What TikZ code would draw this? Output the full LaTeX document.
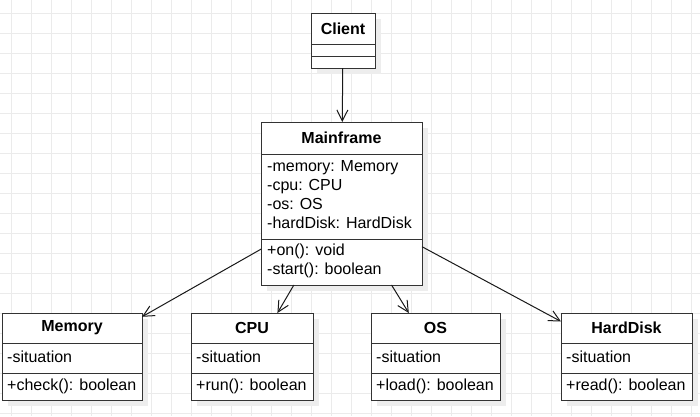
\documentclass[tikz,border=0pt]{standalone}
\usepackage{fontspec}
\setmainfont{Liberation Sans}
\usetikzlibrary{calc, arrows.meta, shadows}

\tikzset{
    umlclass/.style={draw=black!80, fill=white, line width=1pt, anchor=north west,
        inner sep=0pt, outer sep=0pt,
        drop shadow={shadow xshift=6pt, shadow yshift=-6pt, fill=black!7, opacity=1}},
    classname/.style={font=\fontsize{16}{19}\selectfont\bfseries, inner sep=0pt},
    members/.style={font=\fontsize{16}{19}\selectfont, align=left, anchor=west, inner sep=0pt},
    divider/.style={black!80, line width=1pt},
    gridline/.style={black!8, line width=1pt},
    assoc/.style={black!90, line width=1pt, -{Straight Barb[length=11pt, width=11pt]}}
}

\begin{document}
\begin{tikzpicture}[x=1pt, y=-1pt]
    \useasboundingbox (0, 0) rectangle (700, 416);

    % background grid
    \foreach \gx in {11, 31, ..., 691} \draw[gridline] (\gx, 0) -- (\gx, 416);
    \foreach \gy in {13, 33, ..., 413} \draw[gridline] (0, \gy) -- (700, \gy);

    % classes
    \node[umlclass, minimum width=64pt, minimum height=55pt] (client) at (311, 13) {};
    \node[umlclass, minimum width=161pt, minimum height=163pt] (mainframe) at (261, 122) {};
    \node[umlclass, minimum width=140pt, minimum height=87pt] (memory) at (2, 313) {};
    \node[umlclass, minimum width=122pt, minimum height=87pt] (cpu) at (191, 313) {};
    \node[umlclass, minimum width=129pt, minimum height=87pt] (os) at (371, 313) {};
    \node[umlclass, minimum width=131pt, minimum height=87pt] (harddisk) at (561, 313) {};

    % compartments
    \draw[divider] ($(client.north west) + (0, 31)$) -- ($(client.north east) + (0, 31)$);
    \draw[divider] ($(client.north west) + (0, 43)$) -- ($(client.north east) + (0, 43)$);
    \draw[divider] ($(mainframe.north west) + (0, 32)$) -- ($(mainframe.north east) + (0, 32)$);
    \draw[divider] ($(mainframe.north west) + (0, 117)$) -- ($(mainframe.north east) + (0, 117)$);
    \foreach \part in {memory, cpu, os, harddisk} {
        \draw[divider] ($(\part.north west) + (0, 30)$) -- ($(\part.north east) + (0, 30)$);
        \draw[divider] ($(\part.north west) + (0, 60)$) -- ($(\part.north east) + (0, 60)$);
    }

    % names
    \node[classname] (client-name) at ($(client.north) + (0, 15.5)$) {Client};
    \node[classname] (mainframe-name) at ($(mainframe.north) + (0, 16)$) {Mainframe};
    \node[classname] (memory-name) at ($(memory.north) + (0, 15)$) {Memory};
    \node[classname] (cpu-name) at ($(cpu.north) + (0, 15)$) {CPU};
    \node[classname] (os-name) at ($(os.north) + (0, 15)$) {OS};
    \node[classname] (harddisk-name) at ($(harddisk.north) + (0, 15)$) {HardDisk};

    % attributes and operations
    \node[members] (mainframe-attrs) at ($(mainframe.north west) + (6, 73)$)
        {-memory: Memory\\-cpu: CPU\\-os: OS\\-hardDisk: HardDisk};
    \node[members] (mainframe-ops) at ($(mainframe.north west) + (6, 139)$)
        {+on(): void\\-start(): boolean};
    \node[members] (memory-attrs) at ($(memory.north west) + (5, 44)$) {-situation};
    \node[members] (memory-ops) at ($(memory.north west) + (5, 73)$) {+check(): boolean};
    \node[members] (cpu-attrs) at ($(cpu.north west) + (5, 44)$) {-situation};
    \node[members] (cpu-ops) at ($(cpu.north west) + (5, 73)$) {+run(): boolean};
    \node[members] (os-attrs) at ($(os.north west) + (5, 44)$) {-situation};
    \node[members] (os-ops) at ($(os.north west) + (5, 73)$) {+load(): boolean};
    \node[members] (harddisk-attrs) at ($(harddisk.north west) + (5, 44)$) {-situation};
    \node[members] (harddisk-ops) at ($(harddisk.north west) + (5, 73)$) {+read(): boolean};

    % associations
    \draw[assoc] (client) -- (mainframe);
    \draw[assoc] (mainframe) -- (memory);
    \draw[assoc] (mainframe) -- (cpu);
    \draw[assoc] (mainframe) -- (os);
    \draw[assoc] (mainframe) -- (harddisk);
\end{tikzpicture}
\end{document}
